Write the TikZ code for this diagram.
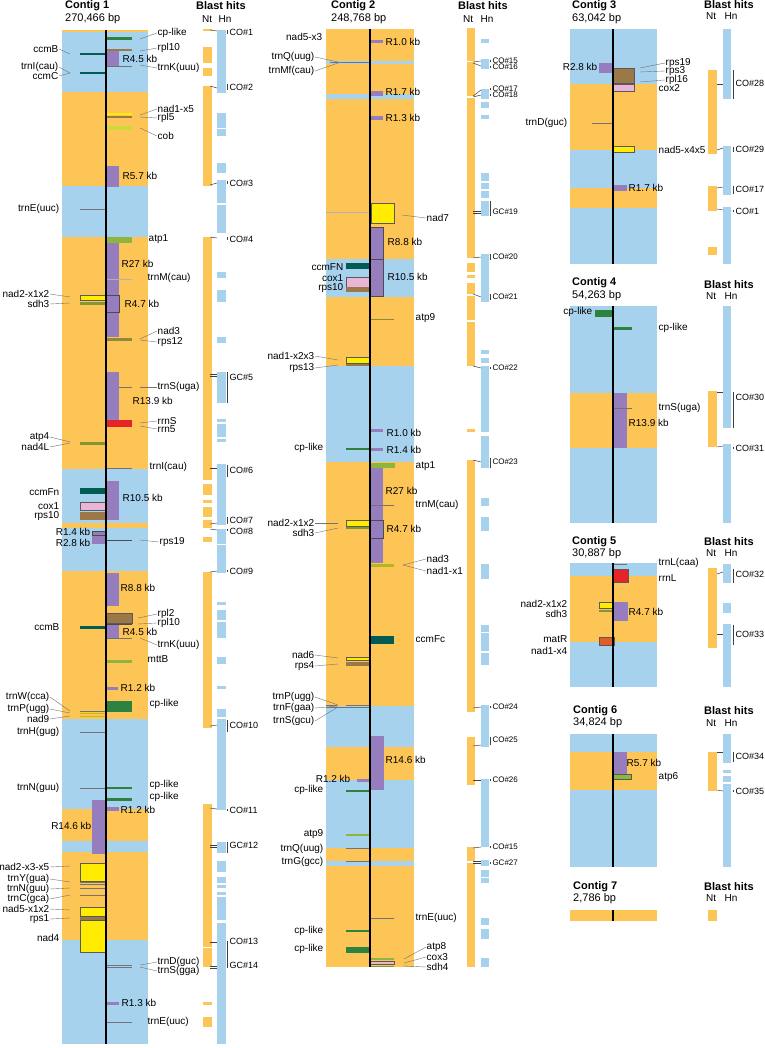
\documentclass[tikz,border=0pt]{standalone}
\usepackage{fontspec}
\setmainfont{Liberation Sans}
\usetikzlibrary{positioning}

\definecolor{orng}{RGB}{253,197,85}
\definecolor{skyb}{RGB}{166,210,238}
\definecolor{rptc}{RGB}{150,126,190}
\definecolor{cpg}{RGB}{46,130,64}
\definecolor{ccmc}{RGB}{0,92,80}
\definecolor{brwn}{RGB}{156,120,72}
\definecolor{cobc}{RGB}{205,218,60}
\definecolor{atpc}{RGB}{140,182,62}
\definecolor{nadc}{RGB}{255,236,0}
\definecolor{coxc}{RGB}{234,182,214}
\definecolor{rrnc}{RGB}{228,36,40}
\definecolor{matc}{RGB}{226,92,40}
\definecolor{sdhc}{RGB}{130,150,50}

% label with leader line, right side: name, leader start, label point, text
\newcommand{\ldR}[4]{%
  \coordinate (#1-f) at (#2);
  \node[lbl, anchor=west] (#1) at (#3) {#4};
  \draw[leader] (#1-f) -- (#1.west);}
% label with leader line, left side
\newcommand{\ldL}[4]{%
  \coordinate (#1-f) at (#2);
  \node[lbl, anchor=east] (#1) at (#3) {#4};
  \draw[leader] (#1-f) -- (#1.east);}
% blast hit label and its bracket: [style] name, x, y, from, to, text
\newcommand{\hitlab}[7][hit]{%
  \node[#1] (#2) at (#3,#4) {#7};
  \draw[bracket] (#3-1.5,#5) -- (#3-1.5,#6);}

\begin{document}
\begin{tikzpicture}[x=1pt, y=-1pt,
    lbl/.style={font=\fontsize{10}{11}\selectfont, inner sep=0.5pt},
    ttl/.style={font=\fontsize{11}{12}\selectfont\bfseries, anchor=west, inner sep=0pt},
    sub/.style={font=\fontsize{11}{12}\selectfont, anchor=west, inner sep=0pt},
    colhd/.style={font=\fontsize{10}{11}\selectfont, anchor=west, inner sep=0pt},
    hit/.style={font=\fontsize{9}{10}\selectfont, anchor=west, inner sep=0.5pt},
    hitsm/.style={font=\fontsize{8}{9}\selectfont, anchor=west, inner sep=0.3pt},
    leader/.style={draw=black!55, line width=0.4pt},
    trna/.style={draw=black!55, line width=0.6pt},
    tickln/.style={draw=black!75, line width=0.5pt},
    bracket/.style={draw=black!75, line width=0.5pt},
    gout/.style={draw=black!65, line width=0.4pt},
    axisln/.style={draw=black, line width=1.3pt}]

    \useasboundingbox (0,0) rectangle (764,1048);

    % ================= Contig 1 =================
    \node[ttl] (c1) at (65,6) {Contig 1};
    \node[sub] (c1bp) at (65,19) {270,466 bp};
    \fill[skyb] (62,30) rectangle (148,1044);
    \foreach \a/\b in {30/32, 92/186, 237/469, 523/528, 571/719, 809/841, 852/940}
        \fill[orng] (62,\a) rectangle (148,\b);

    % repeats
    \foreach \xa/\ya/\xb/\yb in {106/50/119/66, 106/166/119/187, 106/243/119/337, 106/372/119/423,
        106/481/119/520, 92/535/106/544, 106/573/119/606, 106/624/119/638, 106/686.5/118/690,
        106/806.5/119/810.5, 92/800/106/854, 106/1001.5/119/1005}
        \fill[rptc] (\xa,\ya) rectangle (\xb,\yb);
    \filldraw[fill=rptc, draw=black!70, line width=0.5pt] (106,295) rectangle (119,312);
    \filldraw[fill=rptc, draw=black!70, line width=0.5pt] (92,531) rectangle (106,535);

    % genes
    \fill[cpg] (106,37.5) rectangle (132,40);
    \fill[brwn] (106,49) rectangle (132,51.5);
    \draw[trna] (106,66) -- (132,66);
    \fill[ccmc] (80,53) rectangle (106,55.5);
    \fill[ccmc] (80,72) rectangle (106,74.5);
    \fill[nadc] (106,113) rectangle (132,115);
    \fill[brwn] (106,116) rectangle (132,118.5);
    \fill[cobc] (106,126) rectangle (132,130.5);
    \draw[trna] (80,209) -- (106,209);
    \fill[atpc] (106,237) rectangle (132,243);
    \draw[trna, draw=black!30] (106,279) -- (132,279);
    \filldraw[fill=nadc, gout] (80,295) rectangle (106,300);
    \fill[sdhc] (80,302) rectangle (106,304.5);
    \fill[sdhc!60!brwn] (106,338) rectangle (132,340.5);
    \draw[trna] (119,387) -- (132,387);
    \fill[rrnc] (106,420) rectangle (132,427);
    \fill[sdhc] (80,441.5) rectangle (106,444.5);
    \draw[trna] (106,468) -- (132,468);
    \fill[ccmc] (80,488) rectangle (106,494);
    \filldraw[fill=coxc, gout] (80,502) rectangle (106,510);
    \fill[brwn] (80,512) rectangle (106,520);
    \draw[draw=black!70, line width=1pt] (106,540) -- (132,540);
    \filldraw[fill=brwn, gout] (106,613) rectangle (132,623);
    \draw[draw=black!70, line width=0.8pt] (106,624.5) -- (132,624.5);
    \fill[ccmc] (80,626) rectangle (106,628.5);
    \draw[trna] (106,638) -- (132,638);
    \fill[atpc] (106,659.5) rectangle (132,662.5);
    \fill[cpg] (106,701) rectangle (132,712);
    \draw[trna] (80,711) -- (106,711);
    \draw[nadc!80!black, line width=0.8pt] (80,713.5) -- (106,713.5);
    \draw[nadc!80!black, line width=0.8pt] (80,716.5) -- (106,716.5);
    \draw[trna] (80,732) -- (106,732);
    \draw[trna] (80,788) -- (106,788);
    \fill[cpg] (106,786.5) rectangle (132,789);
    \fill[cpg] (106,798) rectangle (132,800.5);
    \filldraw[fill=nadc, gout] (80,863) rectangle (106,881);
    \draw[trna] (80,882.5) -- (106,882.5);
    \draw[trna] (80,884.5) -- (106,884.5);
    \draw[trna] (80,888) -- (106,888);
    \draw[trna] (80,895) -- (106,895);
    \filldraw[fill=nadc, gout] (80,907) rectangle (106,916);
    \fill[brwn] (80,916.5) rectangle (106,919.5);
    \filldraw[fill=nadc, gout] (80,920) rectangle (106,952);
    \draw[trna] (106,965) -- (132,965);
    \draw[trna] (106,967.5) -- (132,967.5);
    \draw[trna] (106,1022) -- (132,1022);

    \draw[axisln] (106,30) -- (106,1044);

    % labels, right
    \ldR{c1cpa}{140,39}{157,33}{cp-like}
    \ldR{c1rpla}{140,51}{157,48}{rpl10}
    \ldR{c1trnka}{140,65}{157,68}{trnK(uuu)}
    \ldR{c1nad1}{140,115}{157,109}{nad1-x5}
    \ldR{c1rpl5}{140,117}{157,118}{rpl5}
    \ldR{c1cob}{140,128}{157,136}{cob}
    \ldR{c1nad3}{140,339}{157,331}{nad3}
    \ldR{c1rps12}{140,340}{157,342}{rps12}
    \ldR{c1trnsa}{140,387}{157,387}{trnS(uga)}
    \ldR{c1rrns}{140,423}{157,421}{rrnS}
    \ldR{c1rrn5}{140,426}{157,429}{rrn5}
    \ldR{c1rps19}{140,540}{159,542}{rps19}
    \ldR{c1rpl2}{138,618}{157,614}{rpl2}
    \ldR{c1rplb}{138,624}{157,623}{rpl10}
    \ldR{c1trnkb}{140,638}{157,645}{trnK(uuu)}
    \ldR{c1trnd}{140,965}{157,962}{trnD(guc)}
    \ldR{c1trnsb}{140,967}{157,971}{trnS(gga)}
    \node[lbl, anchor=west] (c1atp1) at (148,239) {atp1};
    \node[lbl, anchor=west] (c1trnm) at (147,278) {trnM(cau)};
    \node[lbl, anchor=west] (c1trni) at (149,467) {trnI(cau)};
    \node[lbl, anchor=west] (c1mttb) at (147,659) {mttB};
    \node[lbl, anchor=west] (c1cpb) at (149,704) {cp-like};
    \node[lbl, anchor=west] (c1cpc) at (149,785) {cp-like};
    \node[lbl, anchor=west] (c1cpd) at (149,797) {cp-like};
    \node[lbl, anchor=west] (c1trne) at (147,1022) {trnE(uuc)};
    % repeat labels
    \node[lbl, anchor=west] (c1r45a) at (122,59) {R4.5 kb};
    \node[lbl, anchor=west] (c1r57) at (122,176) {R5.7 kb};
    \node[lbl, anchor=west] (c1r27) at (121,264) {R27 kb};
    \node[lbl, anchor=west] (c1r47) at (124,304) {R4.7 kb};
    \node[lbl, anchor=west] (c1r139) at (132,401) {R13.9 kb};
    \node[lbl, anchor=west] (c1r105) at (122,498) {R10.5 kb};
    \node[lbl, anchor=west] (c1r88) at (120,588) {R8.8 kb};
    \node[lbl, anchor=west] (c1r45b) at (122,632) {R4.5 kb};
    \node[lbl, anchor=west] (c1r12a) at (120,688) {R1.2 kb};
    \node[lbl, anchor=west] (c1r12b) at (120,810) {R1.2 kb};
    \node[lbl, anchor=west] (c1r13) at (121,1003) {R1.3 kb};
    \node[lbl, anchor=east] (c1r14) at (91,532) {R1.4 kb};
    \node[lbl, anchor=east] (c1r28) at (91,543) {R2.8 kb};
    \node[lbl, anchor=east] (c1r146) at (92,826) {R14.6 kb};
    % labels, left
    \ldL{c1ccmba}{70,54}{59,49}{ccmB}
    \ldL{c1trnia}{70,73}{59,67}{trnI(cau)}
    \ldL{c1ccmc}{70,73}{59,76}{ccmC}
    \ldL{c1nad2a}{70,297}{50,294}{nad2-x1x2}
    \ldL{c1sdh3}{70,303}{50,304}{sdh3}
    \ldL{c1atp4}{70,442}{50,437}{atp4}
    \ldL{c1nad4l}{70,443}{50,447}{nad4L}
    \ldL{c1trnw}{70,711}{50,697}{trnW(cca)}
    \ldL{c1trnp}{70,713}{50,709}{trnP(ugg)}
    \ldL{c1nad9}{70,716}{50,719}{nad9}
    \ldL{c1nad2b}{70,866}{50,867}{nad2-x3-x5}
    \ldL{c1trny}{70,882}{50,879}{trnY(gua)}
    \ldL{c1trnn}{70,888}{50,889}{trnN(guu)}
    \ldL{c1trnc}{70,895}{50,899}{trnC(gca)}
    \ldL{c1nad5}{70,910}{50,909}{nad5-x1x2}
    \ldL{c1rps1}{70,918}{50,919}{rps1}
    \node[lbl, anchor=east] (c1trnea) at (60,209) {trnE(uuc)};
    \node[lbl, anchor=east] (c1ccmfn) at (60,492) {ccmFn};
    \node[lbl, anchor=east] (c1cox1) at (60,506) {cox1};
    \node[lbl, anchor=east] (c1rps10) at (60,516) {rps10};
    \node[lbl, anchor=east] (c1ccmbb) at (60,627) {ccmB};
    \node[lbl, anchor=east] (c1trnh) at (60,732) {trnH(gug)};
    \node[lbl, anchor=east] (c1trnnb) at (60,788) {trnN(guu)};
    \node[lbl, anchor=east] (c1nad4) at (60,938) {nad4};

    % blast hits, contig 1
    \node[ttl] (bh1) at (196,6) {Blast hits};
    \node[colhd] (nt1) at (202,19) {Nt};
    \node[colhd, right=6pt of nt1] (hn1) {Hn};
    \foreach \a/\b in {29/31, 47/63, 68/76, 86/186, 237/480, 484/495, 500/503, 507/517, 520/528,
        537/542, 572/728, 804/947, 948/967, 1002/1005, 1017/1027}
        \fill[orng] (203,\a) rectangle (212,\b);
    \foreach \a/\b in {30/93, 113/128, 129/136, 163/173, 180/203, 205/233, 272/278, 290/302, 337/343,
        372/403, 419/422, 424/437, 439/442, 464/525, 529/544, 545/573, 602/605, 610/620, 622/638,
        657/664, 686/689, 709/717, 719/810, 842/853, 861/872, 877/883, 885/888, 892/895, 897/920, 923/1044}
        \fill[skyb] (217,\a) rectangle (226,\b);
    \foreach \a/\b in {30/31, 86/88, 185/183, 237/238, 374/374, 376/376, 468/468, 524/523, 529/530,
        572/571, 726/725, 808/809, 845/845, 847/847, 942/942, 966/966, 968/968}
        \draw[tickln] (210,\a) -- (217,\b);
    \hitlab{co1}{229}{32}{30}{34}{CO\#1}
    \hitlab{co2}{229}{87}{84}{90}{CO\#2}
    \hitlab{co3}{229}{183}{181}{184}{CO\#3}
    \hitlab{co4}{229}{239}{237}{240}{CO\#4}
    \hitlab{gc5}{229}{377}{372}{403}{GC\#5}
    \hitlab{co6}{229}{470}{465}{477}{CO\#6}
    \hitlab{co7}{229}{520}{517}{524}{CO\#7}
    \hitlab{co8}{229}{531}{529}{531}{CO\#8}
    \hitlab{co9}{229}{571}{570}{572}{CO\#9}
    \hitlab{co10}{229}{725}{720}{732}{CO\#10}
    \hitlab{co11}{229}{810}{809}{811}{CO\#11}
    \hitlab{gc12}{229}{845}{842}{853}{GC\#12}
    \hitlab{co13}{229}{941}{941}{968}{CO\#13}
    \hitlab{gc14}{229}{965}{965}{968}{GC\#14}

    % ================= Contig 2 =================
    \node[ttl] (c2) at (331,6) {Contig 2};
    \node[sub] (c2bp) at (331,19) {248,768 bp};
    \fill[orng] (326,29) rectangle (414,967);
    \foreach \a/\b in {61/64, 94/99, 259/297, 366/462, 706/747, 780/848, 861/866}
        \fill[skyb] (326,\a) rectangle (414,\b);

    % repeats
    \foreach \xa/\ya/\xb/\yb in {370/40.5/383/43.5, 370/91/383/96, 370/116.5/383/120, 370/429/383/432,
        370/448/383/451, 370/468/383/563, 370/736/384/790, 357/779/370/782}
        \fill[rptc] (\xa,\ya) rectangle (\xb,\yb);
    \filldraw[fill=rptc, draw=black!70, line width=0.5pt] (370,227) rectangle (383,259);
    \filldraw[fill=rptc, draw=black!70, line width=0.5pt] (370,259) rectangle (383,296);
    \filldraw[fill=rptc, draw=black!70, line width=0.5pt] (370,520) rectangle (383,538);

    % genes
    \draw[trna] (330,62) -- (370,62);
    \draw[draw=black!30, line width=0.6pt] (326,212) -- (370,212);
    \filldraw[fill=nadc, gout] (371,203) rectangle (394,223);
    \fill[ccmc] (346,263) rectangle (370,269);
    \filldraw[fill=coxc, gout] (346,277) rectangle (370,287);
    \fill[brwn] (346,287) rectangle (370,292);
    \draw[sdhc!60!brwn, line width=0.8pt] (370,319) -- (394,319);
    \filldraw[fill=nadc, gout] (346,357) rectangle (370,363);
    \fill[brwn] (346,364) rectangle (370,366);
    \fill[cpg] (346,448) rectangle (370,450);
    \fill[atpc] (370,463) rectangle (395,468);
    \draw[trna] (370,505) -- (394,505);
    \filldraw[fill=nadc, gout] (346,520.5) rectangle (370,526);
    \fill[sdhc] (346,527) rectangle (370,529);
    \fill[sdhc!60!nadc] (370,563.5) rectangle (394,567);
    \fill[ccmc] (370,636) rectangle (394,644);
    \filldraw[fill=nadc, gout] (346,657) rectangle (370,660);
    \fill[brwn] (346,662) rectangle (370,666);
    \draw[trna] (326,705) -- (337,705);
    \draw[trna] (346,705) -- (370,705);
    \draw[trna] (326,707.5) -- (370,707.5);
    \fill[cpg] (346,789.5) rectangle (370,791.5);
    \fill[atpc] (346,834) rectangle (370,836);
    \draw[trna] (346,848) -- (370,848);
    \draw[trna] (346,861) -- (370,861);
    \draw[trna] (370,918) -- (394,918);
    \fill[cpg] (346,929.5) rectangle (370,931.5);
    \fill[cpg] (346,947) rectangle (370,953);
    \fill[atpc] (370,958) rectangle (394,960);
    \filldraw[fill=coxc, gout] (370,961.5) rectangle (394,964.5);
    \fill[sdhc] (370,965.5) rectangle (394,967);

    \draw[axisln] (370,29) -- (370,967);

    % labels, left
    \ldL{c2trnq}{338,62}{315,57}{trnQ(uug)}
    \ldL{c2trnmf}{338,63}{315,71}{trnMf(cau)}
    \ldL{c2nad1}{338,360}{315,356}{nad1-x2x3}
    \ldL{c2rps13}{338,365}{315,368}{rps13}
    \ldL{c2nad2}{338,523}{315,523}{nad2-x1x2}
    \ldL{c2sdh3}{338,528}{315,533}{sdh3}
    \ldL{c2nad6}{338,658}{315,655}{nad6}
    \ldL{c2rps4}{338,664}{315,666}{rps4}
    \ldL{c2trnp}{338,705}{315,697}{trnP(ugg)}
    \ldL{c2trnf}{338,706}{315,708}{trnF(gaa)}
    \ldL{c2trns}{338,707}{315,721}{trnS(gcu)}
    \node[lbl, anchor=east] (c2nad5) at (323,37) {nad5-x3};
    \node[lbl, anchor=east] (c2ccmfn) at (344,267) {ccmFN};
    \node[lbl, anchor=east] (c2cox1) at (344,278) {cox1};
    \node[lbl, anchor=east] (c2rps10) at (344,288) {rps10};
    \node[lbl, anchor=east] (c2cpa) at (324,448) {cp-like};
    \node[lbl, anchor=east] (c2r12) at (351,779) {R1.2 kb};
    \node[lbl, anchor=east] (c2cpb) at (324,790) {cp-like};
    \node[lbl, anchor=east] (c2atp9b) at (324,834) {atp9};
    \node[lbl, anchor=east] (c2trnqb) at (324,849) {trnQ(uug)};
    \node[lbl, anchor=east] (c2trng) at (324,862) {trnG(gcc)};
    \node[lbl, anchor=east] (c2cpc) at (324,931) {cp-like};
    \node[lbl, anchor=east] (c2cpd) at (324,949) {cp-like};
    % labels, right
    \node[lbl, anchor=west] (c2r10a) at (385,42) {R1.0 kb};
    \node[lbl, anchor=west] (c2r17) at (385,92) {R1.7 kb};
    \node[lbl, anchor=west] (c2r13) at (385,118) {R1.3 kb};
    \node[lbl, anchor=west] (c2r88) at (387,242) {R8.8 kb};
    \node[lbl, anchor=west] (c2r105) at (387,277) {R10.5 kb};
    \node[lbl, anchor=west] (c2atp9a) at (415,318) {atp9};
    \node[lbl, anchor=west] (c2r10b) at (386,433) {R1.0 kb};
    \node[lbl, anchor=west] (c2r14) at (386,450) {R1.4 kb};
    \node[lbl, anchor=west] (c2atp1) at (415,466) {atp1};
    \node[lbl, anchor=west] (c2r27) at (385,491) {R27 kb};
    \node[lbl, anchor=west] (c2trnm) at (415,505) {trnM(cau)};
    \node[lbl, anchor=west] (c2r47) at (386,529) {R4.7 kb};
    \node[lbl, anchor=west] (c2ccmfc) at (415,639) {ccmFc};
    \node[lbl, anchor=west] (c2r146) at (385,760) {R14.6 kb};
    \node[lbl, anchor=west] (c2trne) at (415,918) {trnE(uuc)};
    \ldR{c2nad7}{402,215}{426,218}{nad7}
    \ldR{c2nad3}{403,565}{426,559}{nad3}
    \ldR{c2nad1x}{403,565}{426,571}{nad1-x1}
    \ldR{c2atp8}{404,959}{426,947}{atp8}
    \ldR{c2cox3}{404,963}{426,957}{cox3}
    \ldR{c2sdh4}{404,966}{426,967}{sdh4}

    % blast hits, contig 2
    \node[ttl] (bh2) at (458,6) {Blast hits};
    \node[colhd] (nt2) at (463,19) {Nt};
    \node[colhd, right=7pt of nt2] (hn2) {Hn};
    \foreach \a/\b in {28/61, 62.5/96, 98/258, 263/272, 275/278, 283/294, 296/320, 322/366, 429/432,
        460/712, 737/785, 847/861, 862.5/967}
        \fill[orng] (467,\a) rectangle (475,\b);
    \foreach \a/\b in {39/43, 59/69, 89/99, 102/108, 115/119, 173/181, 183/189, 191/198, 201/216,
        254/302, 350/354, 358/363, 366/432, 436/468, 498/506, 517/531, 564/579, 625/632, 633/651,
        653/665, 705/747, 779/847, 860/866, 870/877, 878/883, 918/925, 929/939, 958/967}
        \fill[skyb] (481,\a) rectangle (489,\b);
    \foreach \a/\b in {62/61, 63/66, 96/90, 97/95, 211/211, 213/213, 258/257, 294/297, 366/368,
        460/462, 708/707, 746/745, 780/780, 848/847, 861/861, 863/863}
        \draw[tickln] (473,\a) -- (481,\b);
    \hitlab[hitsm]{co15}{492}{61}{60}{62}{CO\#15}
    \hitlab[hitsm]{co16}{492}{67}{66}{68}{CO\#16}
    \hitlab[hitsm]{co17}{492}{89}{88}{90}{CO\#17}
    \hitlab[hitsm]{co18}{492}{95}{94}{96}{CO\#18}
    \hitlab[hitsm]{gc19}{492}{212}{201}{216}{GC\#19}
    \hitlab[hitsm]{co20}{492}{257}{254}{260}{CO\#20}
    \hitlab[hitsm]{co21}{492}{297}{294}{300}{CO\#21}
    \hitlab[hitsm]{co22}{492}{368}{367}{369}{CO\#22}
    \hitlab[hitsm]{co23}{492}{462}{458}{468}{CO\#23}
    \hitlab[hitsm]{co24}{492}{707}{706}{708}{CO\#24}
    \hitlab[hitsm]{co25}{492}{740}{737}{745}{CO\#25}
    \hitlab[hitsm]{co26}{492}{780}{779}{781}{CO\#26}
    \hitlab[hitsm]{co15b}{492}{847}{846}{848}{CO\#15}
    \hitlab[hitsm]{gc27}{492}{863}{862}{864}{GC\#27}

    % ================= Contig 3 =================
    \node[ttl] (c3) at (572,6) {Contig 3};
    \node[sub] (c3bp) at (572,19) {63,042 bp};
    \fill[skyb] (570,29) rectangle (657,264);
    \foreach \a/\b in {84/150, 188/208}
        \fill[orng] (570,\a) rectangle (657,\b);
    \fill[rptc] (599,63) rectangle (613,73);
    \fill[rptc] (613,185) rectangle (627,191);
    \filldraw[fill=brwn, gout] (613,68) rectangle (634,83);
    \filldraw[fill=coxc, gout] (613,84) rectangle (634,91);
    \draw[trna] (592,123) -- (613,123);
    \filldraw[fill=nadc, gout] (613,146) rectangle (634,152);
    \draw[axisln] (613,29) -- (613,264);
    \node[lbl, anchor=east] (c3r28) at (598,67) {R2.8 kb};
    \ldR{c3rps19}{640,68}{665,63}{rps19}
    \ldR{c3rps3}{640,72}{665,71}{rps3}
    \ldR{c3rpl16}{640,82}{665,80}{rpl16}
    \node[lbl, anchor=west] (c3cox2) at (658,88) {cox2};
    \node[lbl, anchor=east] (c3trnd) at (568,123) {trnD(guc)};
    \node[lbl, anchor=west] (c3nad5) at (658,150) {nad5-x4x5};
    \node[lbl, anchor=west] (c3r17) at (628,188) {R1.7 kb};

    \node[ttl] (bh3) at (704,5) {Blast hits};
    \node[colhd] (nt3) at (706,16) {Nt};
    \node[colhd, right=8pt of nt3] (hn3) {Hn};
    \foreach \a/\b in {70/154, 186/211, 247/255}
        \fill[orng] (708,\a) rectangle (717,\b);
    \foreach \a/\b in {29/99, 146/195, 207/264}
        \fill[skyb] (723,\a) rectangle (731,\b);
    \foreach \a/\b in {84/84, 150/148, 188/187, 209/210}
        \draw[tickln] (717,\a) -- (723,\b);
    \hitlab{co28}{735}{83}{70}{99}{CO\#28}
    \hitlab{co29}{735}{149}{147}{152}{CO\#29}
    \hitlab{co17b}{735}{189}{186}{194}{CO\#17}
    \hitlab{co1b}{735}{211}{210}{212}{CO\#1}

    % ================= Contig 4 =================
    \node[ttl] (c4) at (572,283) {Contig 4};
    \node[sub] (c4bp) at (572,296) {54,263 bp};
    \fill[skyb] (570,306) rectangle (657,523);
    \fill[orng] (570,393) rectangle (657,448);
    \fill[rptc] (613,393) rectangle (627,448);
    \fill[cpg] (595,310) rectangle (613,317);
    \fill[cpg] (613,327) rectangle (632,329.5);
    \draw[trna] (613,408) -- (632,408);
    \draw[axisln] (613,306) -- (613,523);
    \node[lbl, anchor=east] (c4cpa) at (593,312) {cp-like};
    \node[lbl, anchor=west] (c4cpb) at (658,328) {cp-like};
    \node[lbl, anchor=west] (c4trns) at (658,408) {trnS(uga)};
    \node[lbl, anchor=west] (c4r139) at (628,423) {R13.9 kb};

    \node[ttl] (bh4) at (704,285) {Blast hits};
    \node[colhd] (nt4) at (706,296) {Nt};
    \node[colhd, right=8pt of nt4] (hn4) {Hn};
    \fill[orng] (708,391) rectangle (717,447);
    \foreach \a/\b in {306/428, 444/523}
        \fill[skyb] (723,\a) rectangle (731,\b);
    \draw[tickln] (717,392) -- (723,392);
    \draw[tickln] (717,447) -- (723,446);
    \hitlab{co30}{735}{397}{392}{428}{CO\#30}
    \hitlab{co31}{735}{448}{447}{449}{CO\#31}

    % ================= Contig 5 =================
    \node[ttl] (c5) at (572,542) {Contig 5};
    \node[sub] (c5bp) at (572,554) {30,887 bp};
    \fill[skyb] (570,563) rectangle (657,687);
    \fill[orng] (570,576) rectangle (657,642);
    \fill[rptc] (613,602) rectangle (628,621);
    \draw[trna] (613,564) -- (627,564);
    \filldraw[fill=rrnc, gout] (613,569) rectangle (628,582);
    \filldraw[fill=nadc, gout] (599,602) rectangle (613,608);
    \fill[sdhc] (599,610) rectangle (613,612);
    \filldraw[fill=matc, gout] (599,637) rectangle (614,645);
    \draw[axisln] (613,563) -- (613,687);
    \node[lbl, anchor=west] (c5trnl) at (658,563) {trnL(caa)};
    \node[lbl, anchor=west] (c5rrnl) at (658,578) {rrnL};
    \node[lbl, anchor=east] (c5nad2) at (568,604) {nad2-x1x2};
    \node[lbl, anchor=east] (c5sdh3) at (568,614) {sdh3};
    \node[lbl, anchor=west] (c5r47) at (628,612) {R4.7 kb};
    \node[lbl, anchor=east] (c5matr) at (568,639) {matR};
    \node[lbl, anchor=east] (c5nad1) at (568,651) {nad1-x4};

    \node[ttl] (bh5) at (704,542) {Blast hits};
    \node[colhd] (nt5) at (706,553) {Nt};
    \node[colhd, right=8pt of nt5] (hn5) {Hn};
    \fill[orng] (708,568) rectangle (717,648);
    \foreach \a/\b in {564/583, 603/613, 624/687}
        \fill[skyb] (723,\a) rectangle (731,\b);
    \draw[tickln] (717,574) -- (723,572);
    \draw[tickln] (717,634) -- (723,634);
    \hitlab{co32}{735}{574}{569}{583}{CO\#32}
    \hitlab{co33}{735}{634}{625}{645}{CO\#33}

    % ================= Contig 6 =================
    \node[ttl] (c6) at (573,711) {Contig 6};
    \node[sub] (c6bp) at (573,723) {34,824 bp};
    \fill[skyb] (570,734) rectangle (657,867);
    \fill[orng] (570,752) rectangle (657,790);
    \fill[rptc] (613,752) rectangle (627,774);
    \filldraw[fill=atpc, gout] (613,774) rectangle (631,779);
    \draw[axisln] (613,734) -- (613,867);
    \node[lbl, anchor=west] (c6r57) at (626,763) {R5.7 kb};
    \node[lbl, anchor=west] (c6atp6) at (658,777) {atp6};

    \node[ttl] (bh6) at (704,711) {Blast hits};
    \node[colhd] (nt6) at (706,723) {Nt};
    \node[colhd, right=8pt of nt6] (hn6) {Hn};
    \fill[orng] (708,752) rectangle (717,791);
    \foreach \a/\b in {734/763, 770/773, 776/782, 784/867}
        \fill[skyb] (723,\a) rectangle (731,\b);
    \draw[tickln] (717,752) -- (723,752);
    \draw[tickln] (717,790) -- (723,791);
    \hitlab{co34}{735}{756}{752}{762}{CO\#34}
    \hitlab{co35}{735}{791}{790}{792}{CO\#35}

    % ================= Contig 7 =================
    \node[ttl] (c7) at (573,887) {Contig 7};
    \node[sub] (c7bp) at (573,899) {2,786 bp};
    \fill[orng] (570,910) rectangle (657,921);
    \draw[axisln] (613,910) -- (613,921);
    \node[ttl] (bh7) at (704,887) {Blast hits};
    \node[colhd] (nt7) at (706,898) {Nt};
    \node[colhd, right=8pt of nt7] (hn7) {Hn};
    \fill[orng] (708,910) rectangle (717,921);
\end{tikzpicture}
\end{document}
